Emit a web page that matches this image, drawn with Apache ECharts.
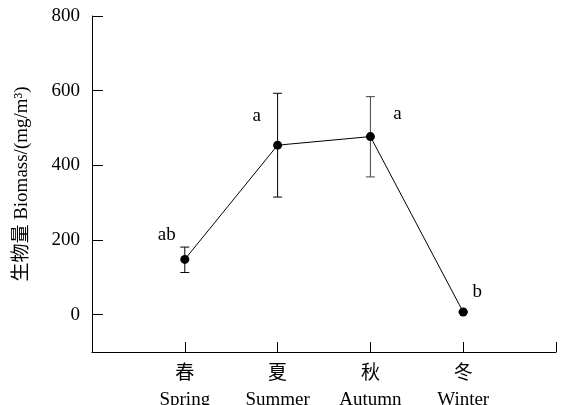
<!DOCTYPE html>
<html><head><meta charset="utf-8">
<script src="https://cdn.jsdelivr.net/npm/echarts@6/dist/echarts.min.js"></script>
<style>html,body{margin:0;padding:0;background:#fff}#c{width:565px;height:405px}</style>
</head><body><div id="c"></div>
<script>
var seasonsCn = ['春', '夏', '秋', '冬'];
var seasonsEn = ['Spring', 'Summer', 'Autumn', 'Winter'];
var positions = [1, 2, 3, 4];
var biomass = [148, 454, 477, 7];
var errLow = [113, 315, 369, 7];
var errHigh = [181, 593, 584, 7];
var letters = ['ab', 'a', 'a', 'b'];
var yTicks = [0, 200, 400, 600, 800];

var font = '"Liberation Serif", "Times New Roman", "Noto Sans CJK SC", serif';
var chart = echarts.init(document.getElementById('c'));
var lineData = positions.map(function (p, i) { return [p, biomass[i]]; });
var errData = positions.map(function (p, i) { return [p, errLow[i], errHigh[i]]; });
var labelOffsets = [[-18, -24], [-21, -29], [27, -23], [14, -20]];

chart.setOption({
  animation: false,
  grid: { left: 92, right: 9, top: 16, bottom: 53, outerBoundsMode: 'none', containLabel: false },
  xAxis: {
    type: 'value', min: 0, max: 5,
    splitLine: { show: false },
    axisLine: { show: true, onZero: false, lineStyle: { color: '#000', width: 1 } },
    axisTick: { show: true, inside: true, length: 10, customValues: [1, 2, 3, 4, 5], lineStyle: { color: '#000' } },
    axisLabel: {
      customValues: positions, margin: 9, color: '#000', fontFamily: font, fontSize: 19, lineHeight: 26,
      formatter: function (v) { var i = positions.indexOf(v); return i < 0 ? '' : seasonsCn[i] + '\n' + seasonsEn[i]; }
    }
  },
  yAxis: {
    type: 'value', min: -100, max: 800,
    name: '生物量 Biomass/(mg/m³)', nameLocation: 'middle', nameGap: 60,
    nameTextStyle: { color: '#000', fontFamily: font, fontSize: 19 },
    splitLine: { show: false },
    axisLine: { show: true, lineStyle: { color: '#000', width: 1 } },
    axisTick: { show: true, inside: true, length: 11, customValues: yTicks, lineStyle: { color: '#000' } },
    axisLabel: { customValues: yTicks, margin: 12, color: '#000', fontFamily: font, fontSize: 19 }
  },
  series: [
    {
      type: 'custom',
      data: errData,
      z: 2,
      renderItem: function (params, api) {
        var x = api.value(0), lo = api.value(1), hi = api.value(2);
        var p1 = api.coord([x, lo]), p2 = api.coord([x, hi]);
        var w = 4.5;
        var col = params.dataIndex === 2 ? '#444' : '#000';
        var st = { stroke: col, lineWidth: 1 };
        return { type: 'group', children: [
          { type: 'line', shape: { x1: p1[0], y1: p1[1], x2: p2[0], y2: p2[1] }, style: st },
          { type: 'line', shape: { x1: p1[0] - w, y1: p1[1], x2: p1[0] + w, y2: p1[1] }, style: st },
          { type: 'line', shape: { x1: p2[0] - w, y1: p2[1], x2: p2[0] + w, y2: p2[1] }, style: st }
        ]};
      }
    },
    {
      type: 'line',
      data: lineData,
      z: 3,
      symbol: 'circle', symbolSize: 9,
      lineStyle: { color: '#000', width: 1 },
      itemStyle: { color: '#000' },
      label: {
        show: true, color: '#000', fontFamily: font, fontSize: 19,
        formatter: function (p) { return letters[p.dataIndex]; },
        position: 'inside'
      },
      labelLayout: function (params) {
        var o = labelOffsets[params.dataIndex];
        return { dx: o[0], dy: o[1] };
      }
    }
  ]
});
</script></body></html>
